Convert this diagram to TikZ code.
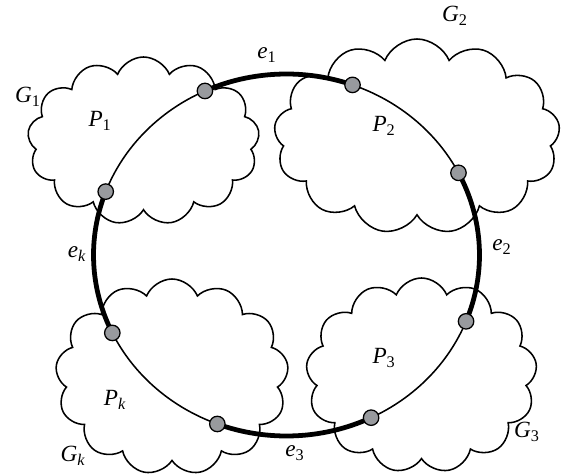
\documentclass[tikz,border=0pt]{standalone}
\usepackage{fontspec}
\setmainfont{Liberation Serif}
\usetikzlibrary{shapes.symbols}
\newcommand{\CycleUnit}{0.025}
\newcommand{\Lsub}[2]{\textit{#1}\textsubscript{#2}}
\definecolor{jointgray}{RGB}{152,154,158}
\tikzset{
  part/.style={cloud, cloud puffs=13, cloud puff arc=135, cloud ignores aspect, draw, line width=1.1pt, inner sep=0pt},
  pathedge/.style={line width=1.1pt},
  cycleedge/.style={line width=3.4pt},
  cyc/.style={x radius=193, y radius=181},
  joint/.style={circle, draw, fill=jointgray, line width=0.9pt, minimum size=11pt, inner sep=0pt},
  lbl/.style={font=\fontsize{16.5}{19}\selectfont, inner sep=0pt}
}

\begin{document}
\begin{tikzpicture}[x=\CycleUnit cm, y=\CycleUnit cm]
		\useasboundingbox (0,0) rectangle (562,475);
		% the four parts
		\node[part, minimum width=\CycleUnit*232 cm, minimum height=\CycleUnit*168 cm] (g1) at (143.5,334) {};
		\node[part, minimum width=\CycleUnit*286 cm, minimum height=\CycleUnit*195 cm] (g2) at (417,338.5) {};
		\node[part, minimum width=\CycleUnit*231 cm, minimum height=\CycleUnit*195 cm] (g3) at (421.5,99.5) {};
		\node[part, minimum width=\CycleUnit*233 cm, minimum height=\CycleUnit*196 cm] (gk) at (172,98) {};
		% ends of the paths on the cycle
		\coordinate (o) at (286.5,220);
		\path (o) ++(159.5:193 and 181) coordinate (s1);
		\path (o) ++(115:193 and 181) coordinate (t1);
		\path (o) ++(70:193 and 181) coordinate (s2);
		\path (o) ++(27:193 and 181) coordinate (t2);
		\path (o) ++(-21.5:193 and 181) coordinate (s3);
		\path (o) ++(-64:193 and 181) coordinate (t3);
		\path (o) ++(-111:193 and 181) coordinate (sk);
		\path (o) ++(-154.5:193 and 181) coordinate (tk);
		% paths inside the parts
		\draw[pathedge] (s1) arc[cyc, start angle=159.5, end angle=115];
		\draw[pathedge] (s2) arc[cyc, start angle=70, end angle=27];
		\draw[pathedge] (s3) arc[cyc, start angle=-21.5, end angle=-64];
		\draw[pathedge] (sk) arc[cyc, start angle=-111, end angle=-154.5];
		% edges joining them
		\draw[cycleedge] (t1) arc[cyc, start angle=115, end angle=70];
		\draw[cycleedge] (t2) arc[cyc, start angle=27, end angle=-21.5];
		\draw[cycleedge] (t3) arc[cyc, start angle=-64, end angle=-111];
		\draw[cycleedge] (tk) arc[cyc, start angle=-154.5, end angle=-200.5];
		\foreach \v in {s1,t1,s2,t2,s3,t3,sk,tk}
			\node[joint] (dot-\v) at (\v) {};
		% labels
		\node[lbl] (lg1) at (28,378) {\Lsub{G}{1}};
		\node[lbl] (lg2) at (455,459) {\Lsub{G}{2}};
		\node[lbl] (lg3) at (527,43) {\Lsub{G}{3}};
		\node[lbl] (lgk) at (73,19) {\Lsub{G}{\textit{k}}};
		\node[lbl] (lp1) at (100,354) {\Lsub{P}{1}};
		\node[lbl] (lp2) at (384,349) {\Lsub{P}{2}};
		\node[lbl] (lp3) at (384,117) {\Lsub{P}{3}};
		\node[lbl] (lpk) at (115,75) {\Lsub{P}{\textit{k}}};
		\node[lbl] (le1) at (267,420) {\Lsub{e}{1}};
		\node[lbl] (le2) at (502,228) {\Lsub{e}{2}};
		\node[lbl] (le3) at (295,22) {\Lsub{e}{3}};
		\node[lbl] (lek) at (77,221) {\Lsub{e}{\textit{k}}};
\end{tikzpicture}
\end{document}
